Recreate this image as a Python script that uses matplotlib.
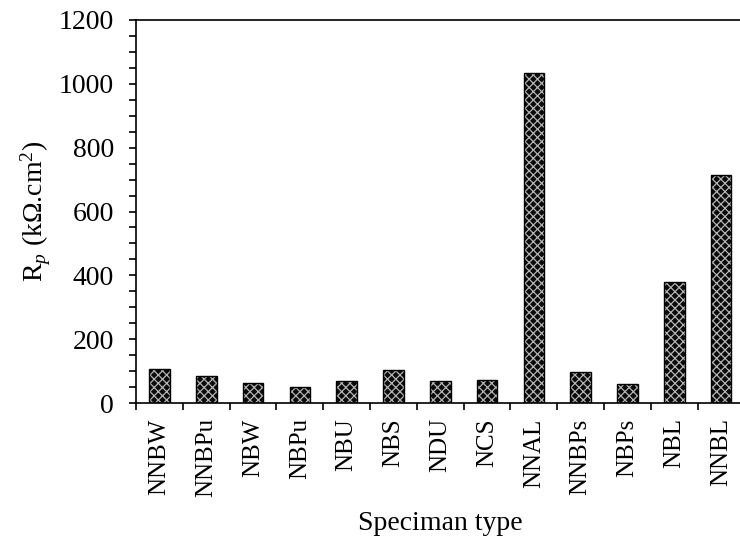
import numpy as np
import matplotlib
matplotlib.use("Agg")
import matplotlib.pyplot as plt
from matplotlib.ticker import MultipleLocator

# Data
specimens = ["NNBW", "NNBPu", "NBW", "NBPu", "NBU", "NBS", "NDU",
             "NCS", "NNAL", "NNBPs", "NBPs", "NBL", "NNBL"]
rp_values = [107, 86, 62, 51, 68, 102, 68, 73, 1035, 96, 61, 379, 714]
y_ticks = [0, 200, 400, 600, 800, 1000, 1200]

plt.rcParams['font.family'] = ['Liberation Serif', 'DejaVu Serif']
plt.rcParams['mathtext.fontset'] = 'custom'
plt.rcParams['mathtext.rm'] = 'Liberation Serif'
plt.rcParams['mathtext.it'] = 'Liberation Serif:italic'
plt.rcParams['hatch.linewidth'] = 0.9

fig = plt.figure(figsize=(7.4, 5.39), dpi=100)
ax = fig.add_axes([0.1838, 0.2523, 0.8222, 0.7106])

x = np.arange(len(specimens))
# dark fill with light crosshatch, then black outline on top
ax.bar(x, rp_values, width=0.44, color="#0a0a0a", edgecolor="#b4b4b4",
       hatch="xxxx", linewidth=0, zorder=2)
ax.bar(x, rp_values, width=0.44, facecolor="none", edgecolor="black",
       linewidth=1.0, zorder=3)

ax.set_xlim(-0.5, len(specimens) - 0.5)
ax.set_ylim(0, 1200)
ax.set_yticks(y_ticks)
ax.yaxis.set_minor_locator(MultipleLocator(50))

ax.set_xticks(x)
ax.set_xticklabels(specimens, rotation=90, fontsize=18)
ax.set_xticks(np.arange(len(specimens)) - 0.5, minor=True)
ax.tick_params(axis="x", which="major", length=0, pad=11)
ax.tick_params(axis="x", which="minor", length=5, width=1.2, direction="out")
ax.tick_params(axis="y", which="both", length=5, width=1.2, direction="out",
               labelsize=20, pad=11)

for side in ["left", "bottom", "top"]:
    ax.spines[side].set_linewidth(1.2)
ax.spines["right"].set_visible(False)

ax.set_ylabel(r"R$_{\mathit{p}}$ (k$\Omega$.cm$^{2}$)", fontsize=20, labelpad=4)
ax.set_xlabel("Speciman type", fontsize=20, labelpad=10)

fig.savefig("out.png", dpi=100)
